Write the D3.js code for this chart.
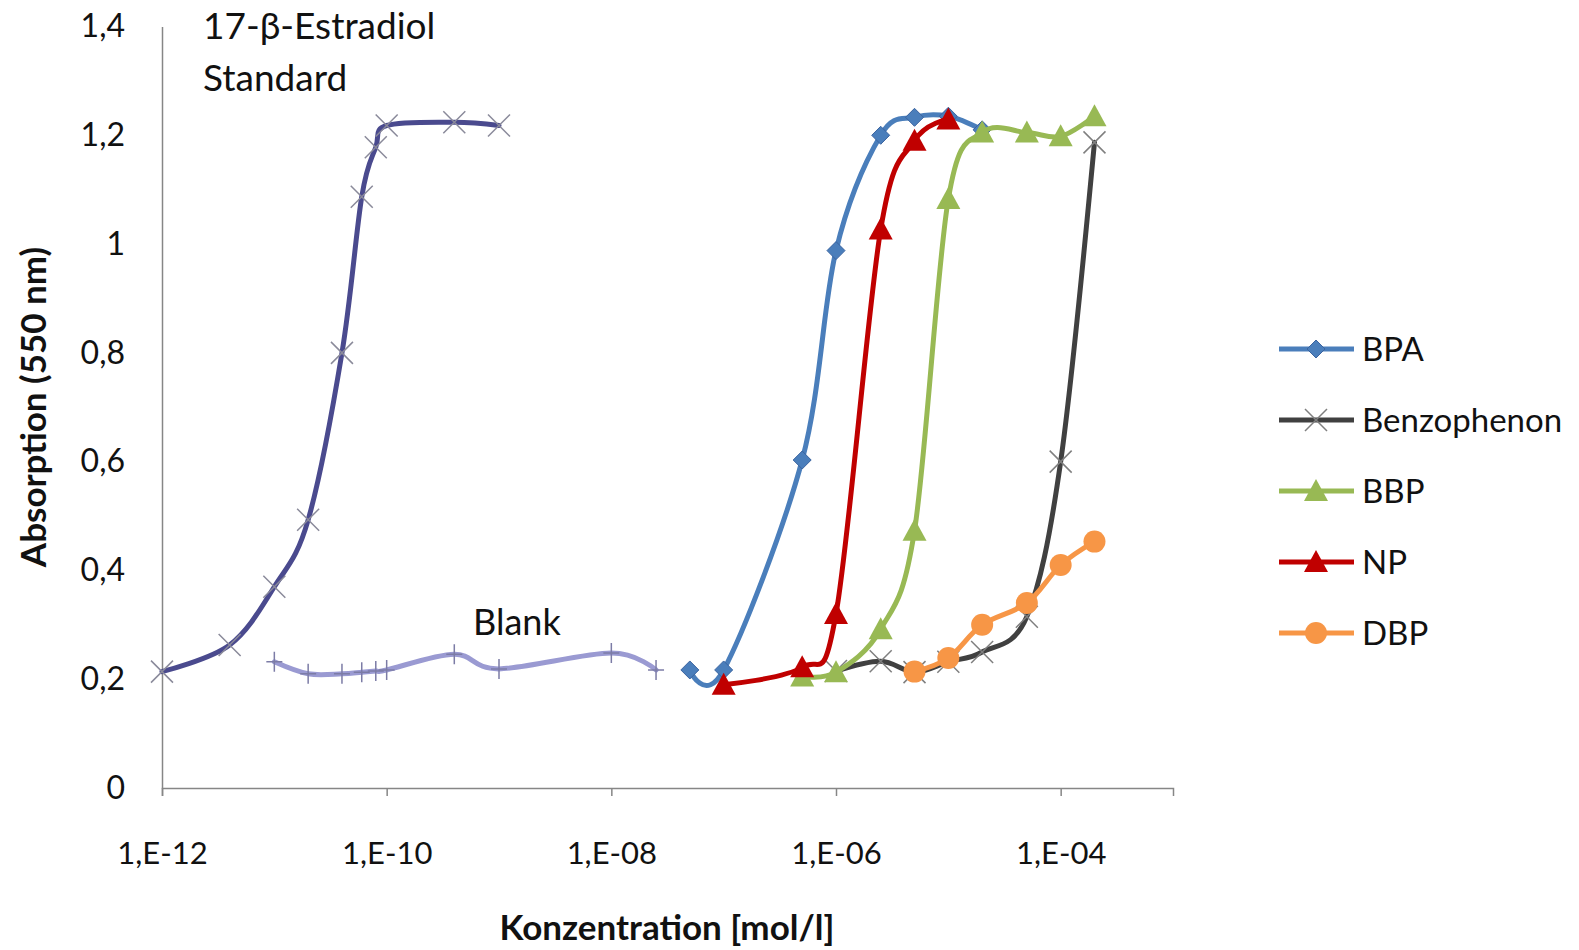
<!DOCTYPE html>
<html>
<head>
<meta charset="utf-8">
<script src="https://cdn.jsdelivr.net/npm/d3@7"></script>
<style>
  body { margin: 0; background: #fff; }
  text { font-family: Lato, "Open Sans", sans-serif; fill: #111; }
</style>
</head>
<body>
<div id="chart"></div>
<script>
// concentrations [mol/l] and absorptions (550 nm)
var estrConc = [1e-12, 4e-12, 1e-11, 2e-11, 4e-11, 6e-11, 8e-11, 1e-10, 4e-10, 1e-9];
var estrVals = [0.214, 0.263, 0.37, 0.493, 0.80, 1.087, 1.178, 1.218, 1.224, 1.218];

var blankConc = [1e-11, 2e-11, 4e-11, 6e-11, 8e-11, 1e-10, 4e-10, 1e-9, 1e-8, 2.5e-8];
var blankVals = [0.232, 0.21, 0.21, 0.213, 0.215, 0.217, 0.246, 0.219, 0.248, 0.217];

var bpaConc = [5e-8, 1e-7, 5e-7, 1e-6, 2.5e-6, 5e-6, 1e-5, 2e-5];
var bpaVals = [0.217, 0.217, 0.603, 0.988, 1.20, 1.233, 1.235, 1.21];

var benzConc = [1e-6, 2.5e-6, 5e-6, 1e-5, 2e-5, 5e-5, 1e-4, 2e-4];
var benzVals = [0.215, 0.233, 0.213, 0.232, 0.25, 0.315, 0.60, 1.187];

var bbpConc = [5e-7, 1e-6, 2.5e-6, 5e-6, 1e-5, 2e-5, 5e-5, 1e-4, 2e-4];
var bbpVals = [0.205, 0.213, 0.292, 0.473, 1.083, 1.205, 1.205, 1.198, 1.235];

var npConc = [1e-7, 5e-7, 1e-6, 2.5e-6, 5e-6, 1e-5];
var npVals = [0.19, 0.222, 0.32, 1.027, 1.19, 1.229];

var dbpConc = [5e-6, 1e-5, 2e-5, 5e-5, 1e-4, 2e-4];
var dbpVals = [0.214, 0.239, 0.30, 0.34, 0.41, 0.453];

var xTicks = [1e-12, 1e-10, 1e-8, 1e-6, 1e-4];
var yTicks = [0, 0.2, 0.4, 0.6, 0.8, 1, 1.2, 1.4];

var width = 1579,
    height = 950;

var svg = d3.select("#chart").append("svg")
    .attr("width", width)
    .attr("height", height);

var x = d3.scaleLog().domain([1e-12, 1e-3]).range([162, 1173]);
var y = d3.scaleLinear().domain([0, 1.4]).range([788, 26.5]);

function zip(c, v) {
  return c.map(function(d, i) { return [d, v[i]]; });
}

// Excel style "1,E-08" labels
function sciLabel(d) {
  var e = Math.round(Math.log10(d));
  var s = String(Math.abs(e));
  if (s.length < 2) s = "0" + s;
  return "1,E" + (e < 0 ? "-" : "+") + s;
}

var line = d3.line()
    .x(function(d) { return x(d[0]); })
    .y(function(d) { return y(d[1]); })
    .curve(d3.curveCardinal.tension(0));

// axes
var xAxis = svg.append("g")
    .attr("transform", "translate(0,788)")
    .call(d3.axisBottom(x).tickValues(xTicks).tickSize(8).tickPadding(46).tickFormat(sciLabel));
xAxis.select(".domain").attr("stroke", "#868686").attr("stroke-width", 1.5);
xAxis.selectAll(".tick line").attr("stroke", "#868686").attr("stroke-width", 1.5);
xAxis.selectAll(".tick text").attr("font-size", 31).attr("font-family", "Lato").attr("fill", "#111");

var yAxis = svg.append("g")
    .attr("transform", "translate(162,0)")
    .call(d3.axisLeft(y).tickValues(yTicks).tickSize(0).tickPadding(37)
      .tickFormat(function(d) { return String(+d.toFixed(1)).replace(".", ","); }));
yAxis.select(".domain").attr("stroke", "#868686").attr("stroke-width", 1.5);
yAxis.selectAll(".tick text").attr("font-size", 32).attr("font-family", "Lato").attr("fill", "#111");

// axis titles
svg.append("text")
    .attr("x", 667).attr("y", 940)
    .attr("text-anchor", "middle")
    .attr("font-size", 35).attr("font-weight", "bold")
    .text("Konzentration [mol/l]");

svg.append("text")
    .attr("transform", "translate(46,407) rotate(-90)")
    .attr("text-anchor", "middle")
    .attr("font-size", 35).attr("font-weight", "bold")
    .text("Absorption (550 nm)");

// annotations
svg.append("text").attr("x", 203).attr("y", 39).attr("font-size", 37).text("17-β-Estradiol");
svg.append("text").attr("x", 203).attr("y", 91).attr("font-size", 37).text("Standard");
svg.append("text").attr("x", 473).attr("y", 635).attr("font-size", 36).text("Blank");

// marker shapes
function diamond(g, c) {
  g.append("path").attr("d", "M0,-9L9,0L0,9L-9,0Z").attr("fill", c).attr("stroke", "#3b64a0").attr("stroke-width", 1);
}
function triangle(g, c) {
  g.append("path").attr("d", "M0,-12L12,10L-12,10Z").attr("fill", c);
}
function circle(g, c) {
  g.append("circle").attr("r", 11).attr("fill", c);
}
function cross(g, c) {
  g.append("path").attr("d", "M-11,-11L11,11M-11,11L11,-11").attr("stroke", c).attr("stroke-width", 1.5).attr("fill", "none");
}
function plus(g, c) {
  g.append("path").attr("d", "M0,-10L0,10M-8,0L8,0").attr("stroke", c).attr("stroke-width", 1.5).attr("fill", "none");
}

var series = [
  { name: "Estradiol", data: zip(estrConc, estrVals), color: "#4a4a8e", mark: cross, markColor: "#8a8a9a" },
  { name: "Blank", data: zip(blankConc, blankVals), color: "#9a9ad2", mark: plus, markColor: "#7c7ca6" },
  { name: "BPA", data: zip(bpaConc, bpaVals), color: "#4a7ebb", mark: diamond, markColor: "#4a7ebb" },
  { name: "Benzophenon", data: zip(benzConc, benzVals), color: "#404040", mark: cross, markColor: "#7f7f7f" },
  { name: "BBP", data: zip(bbpConc, bbpVals), color: "#98b954", mark: triangle, markColor: "#98b954" },
  { name: "NP", data: zip(npConc, npVals), color: "#c00000", mark: triangle, markColor: "#c00000" },
  { name: "DBP", data: zip(dbpConc, dbpVals), color: "#f79646", mark: circle, markColor: "#f79646" }
];

series.forEach(function(s) {
  var g = svg.append("g");
  g.append("path")
      .datum(s.data)
      .attr("d", line)
      .attr("fill", "none")
      .attr("stroke", s.color)
      .attr("stroke-width", 5)
      .attr("stroke-linecap", "round")
      .attr("stroke-linejoin", "round");
  g.selectAll("g.mk")
      .data(s.data)
    .enter().append("g")
      .attr("class", "mk")
      .attr("transform", function(d) { return "translate(" + x(d[0]) + "," + y(d[1]) + ")"; })
      .each(function() { s.mark(d3.select(this), s.markColor); });
});

// legend (only the five substances)
var legend = svg.append("g").attr("transform", "translate(1279,349)");
series.slice(2).forEach(function(s, i) {
  var row = legend.append("g").attr("transform", "translate(0," + (i * 71) + ")");
  row.append("line")
      .attr("x1", 0).attr("x2", 75)
      .attr("stroke", s.color).attr("stroke-width", 5);
  s.mark(row.append("g").attr("transform", "translate(37,0)"), s.markColor);
  row.append("text")
      .attr("x", 83).attr("y", 12)
      .attr("font-size", 33)
      .text(s.name);
});
</script>
</body>
</html>
